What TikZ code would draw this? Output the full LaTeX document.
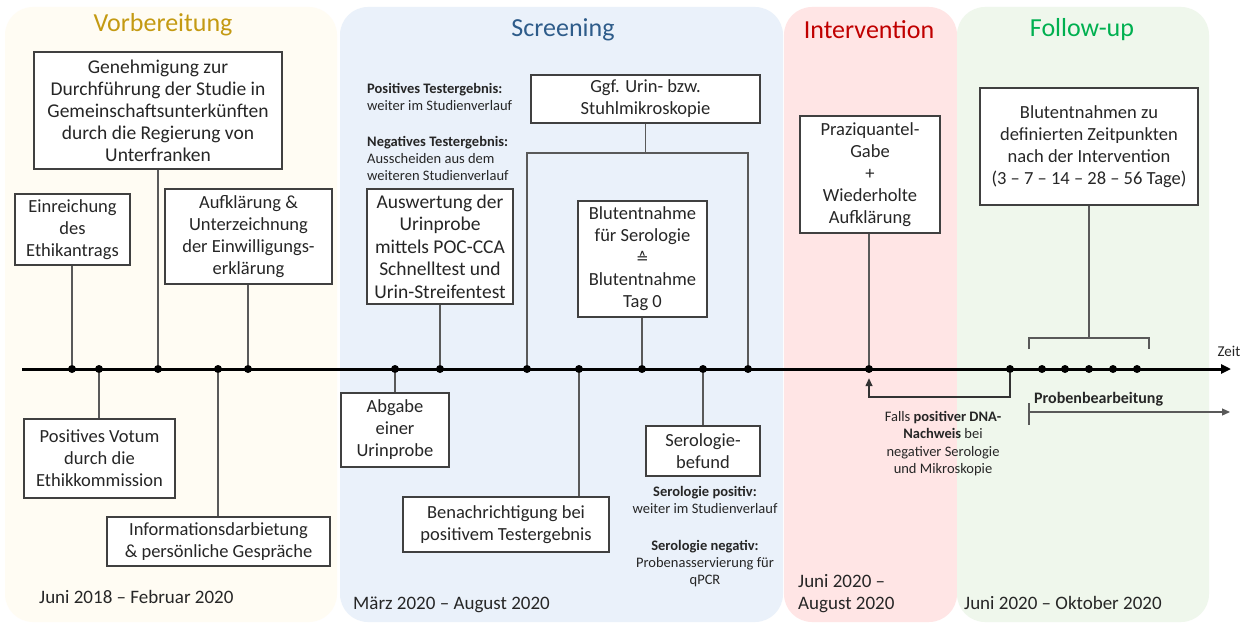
\documentclass[tikz,border=0pt]{standalone}
\usepackage{fontspec}
\setmainfont{Carlito}
\newfontfamily\symfont{DejaVu Sans}
\usetikzlibrary{arrows.meta}
\definecolor{pvor}{HTML}{FFFCF3}
\definecolor{pscr}{HTML}{EAF1FA}
\definecolor{pint}{HTML}{FFE5E5}
\definecolor{pfol}{HTML}{EFF7EC}
\definecolor{tvor}{HTML}{C49A12}
\definecolor{tscr}{HTML}{2E5C8A}
\definecolor{tint}{HTML}{C00000}
\definecolor{tfol}{HTML}{00B050}
\definecolor{boxline}{HTML}{404040}
\definecolor{conline}{HTML}{595959}
\definecolor{txt}{HTML}{262626}
\tikzset{
  panel/.style={rounded corners=28pt, draw=none},
  ptitle/.style={font=\fontsize{26}{30}\selectfont, inner sep=0pt},
  tbox/.style={draw=boxline, fill=white, line width=1.1pt, align=center, inner sep=0pt,
     text=txt, font=\fontsize{18.5}{22}\selectfont},
  conn/.style={draw=conline, line width=1.2pt},
  dotm/.style={circle, fill=black, inner sep=0pt, minimum size=8pt},
  note/.style={text=txt, font=\fontsize{14.5}{17}\selectfont, inner sep=0pt},
  datel/.style={text=txt, font=\fontsize{19}{22}\selectfont, inner sep=0pt, align=left},
}
\begin{document}
\begin{tikzpicture}[x=1pt,y=-1pt]
\useasboundingbox[fill=white] (0,0) rectangle (1247,623);
% panels
\fill[panel, pvor] (5,7) rectangle (337,622);
\fill[panel, pscr] (340,7) rectangle (783,622);
\fill[panel, pint] (784,7) rectangle (957,622);
\fill[panel, pfol] (957,7) rectangle (1209,622);
\node[ptitle, text=tvor] (tv) at (163,25) {Vorbereitung};
\node[ptitle, text=tscr] (ts) at (563,30) {Screening};
\node[ptitle, text=tint] (ti) at (869,30) {Intervention};
\node[ptitle, text=tfol] (tf) at (1082,30) {Follow-up};
% timeline
\coordinate (tlS) at (22,369);
\coordinate (tlE) at (1231,369);
\draw[line width=3pt, -{Triangle[length=10pt,width=9pt]}] (tlS) -- (tlE);
\node[font=\fontsize{15}{17}\selectfont, text=txt, inner sep=0pt] (zeit) at (1229,351) {Zeit};
% dots
\foreach \n/\x in {v1/72,v2/99,v3/158,v4/218,v5/248,s1/395,s2/440,s3/527,s4/579,s5/642,s6/703,s7/748,i1/869,f1/1010,f2/1042,f3/1065,f4/1089,f5/1113,f6/1137}
  \node[dotm] (\n) at (\x,369) {};
% Vorbereitung boxes
\node[tbox, minimum width=248pt, minimum height=117pt, font=\fontsize{19.5}{22}\selectfont] (gen) at (158,110.5)
  {Genehmigung zur\\Durchführung der Studie in\\Gemeinschaftsunterkünften\\durch die Regierung von\\Unterfranken};
\node[tbox, minimum width=115pt, minimum height=71pt] (ein) at (72.5,229.5)
  {Einreichung\\des\\Ethikantrags};
\node[tbox, minimum width=167pt, minimum height=95pt] (auf) at (248.5,236.5)
  {Aufklärung \&\\Unterzeichnung\\der Einwilligungs-\\erklärung};
\node[tbox, minimum width=151pt, minimum height=79pt] (vot) at (99.5,458.5)
  {Positives Votum\\durch die\\Ethikkommission};
\node[tbox, minimum width=223pt, minimum height=49pt] (inf) at (218.5,541.5)
  {Informationsdarbietung\\\& persönliche Gespräche};
\draw[conn] (v1) -- (v1 |- ein.south);
\draw[conn] (v3) -- (v3 |- gen.south);
\draw[conn] (v5) -- (v5 |- auf.south);
\draw[conn] (v2) -- (v2 |- vot.north);
\draw[conn] (v4) -- (v4 |- inf.north);
\node[datel, anchor=west] (dv) at (39,597) {Juni 2018 – Februar 2020};
% Screening
\node[note, anchor=north west, align=left] (npos) at (367,83)
  {\textbf{Positives Testergebnis:}\\weiter im Studienverlauf};
\node[note, anchor=north west, align=left] (nneg) at (367,136)
  {\textbf{Negatives Testergebnis:}\\Ausscheiden aus dem\\weiteren Studienverlauf};
\node[tbox, minimum width=146pt, minimum height=115pt, font=\fontsize{19.5}{22.5}\selectfont] (ausw) at (440,246.5)
  {Auswertung der\\Urinprobe\\mittels POC-CCA\\Schnelltest und\\Urin-Streifentest};
\node[tbox, minimum width=229pt, minimum height=48pt] (ggf) at (645.5,99)
  {Ggf. Urin- bzw.\\Stuhlmikroskopie};
\node[tbox, minimum width=129pt, minimum height=116pt] (blut) at (642.5,259)
  {Blutentnahme\\für Serologie\\{\symfont\fontsize{15}{22}\selectfont ≙}\\Blutentnahme\\Tag 0};
\node[tbox, minimum width=108pt, minimum height=74pt] (abg) at (395,430)
  {Abgabe\\einer\\Urinprobe};
\node[tbox, minimum width=206pt, minimum height=55pt] (ben) at (506,524.5)
  {Benachrichtigung bei\\positivem Testergebnis};
\node[tbox, minimum width=114pt, minimum height=50pt] (ser) at (703,451)
  {Serologie-\\befund};
\coordinate (brY) at (0,153);
\draw[conn] (s2) -- (s2 |- ausw.south);
\draw[conn] (s5) -- (s5 |- blut.south);
\draw[conn] (s3) -- (s3 |- brY) -- (s7 |- brY) -- (s7);
\draw[conn] (ggf.south) -- (ggf.south |- brY);
\draw[conn] (s1) -- (s1 |- abg.north);
\draw[conn] (s4) -- (s4 |- ben.north);
\draw[conn] (s6) -- (s6 |- ser.north);
\node[note, anchor=north, align=center] (nser) at (705,486)
  {\textbf{Serologie positiv:}\\weiter im Studienverlauf\\[20pt]\textbf{Serologie negativ:}\\Probenasservierung für\\qPCR};
\node[datel, anchor=west] (ds) at (353,605) {März 2020 – August 2020};
% Intervention
\node[tbox, minimum width=140pt, minimum height=117pt] (praz) at (870,174.5)
  {Praziquantel-\\Gabe\\+\\Wiederholte\\Aufklärung};
\draw[conn] (i1) -- (i1 |- praz.south);
\node[datel, anchor=west] (di) at (798,594) {Juni 2020 –\\August 2020};
% Follow-up
\node[tbox, minimum width=218pt, minimum height=117pt] (bltn) at (1089,146.5)
  {Blutentnahmen zu\\definierten Zeitpunkten\\nach der Intervention\\(3 – 7 – 14 – 28 – 56 Tage)};
\coordinate (fbL) at (1029,349);
\coordinate (fbR) at (1149,349);
\coordinate (fbY) at (0,338);
\draw[conn] (fbL) -- (fbL |- fbY) -- (fbR |- fbY) -- (fbR);
\draw[conn] (bltn.south) -- (bltn.south |- fbY);
\coordinate (rtY) at (0,397);
\draw[conn, line width=1.4pt, draw=black!80, -{Triangle[length=8pt,width=7pt]}, shorten >=5pt]
  (f1) -- (f1 |- rtY) -- (i1 |- rtY) -- (i1);
\node[note, anchor=north, align=center, font=\fontsize{14.5}{17.5}\selectfont] (nfalls) at (943,411)
  {Falls \textbf{positiver DNA-}\\\textbf{Nachweis} bei\\negativer Serologie\\und Mikroskopie};
\coordinate (pbS) at (1029,412);
\coordinate (pbE) at (1230,412);
\draw[conn, -{Triangle[length=8pt,width=7pt]}] (pbS) -- (pbE);
\draw[conn] ([yshift=9pt]pbS) -- ([yshift=-13pt]pbS);
\node[note, anchor=west, font=\bfseries\fontsize{16}{18}\selectfont] (pb) at (1034,399) {Probenbearbeitung};
\node[datel, anchor=west] (df) at (964,603) {Juni 2020 – Oktober 2020};
\end{tikzpicture}
\end{document}
